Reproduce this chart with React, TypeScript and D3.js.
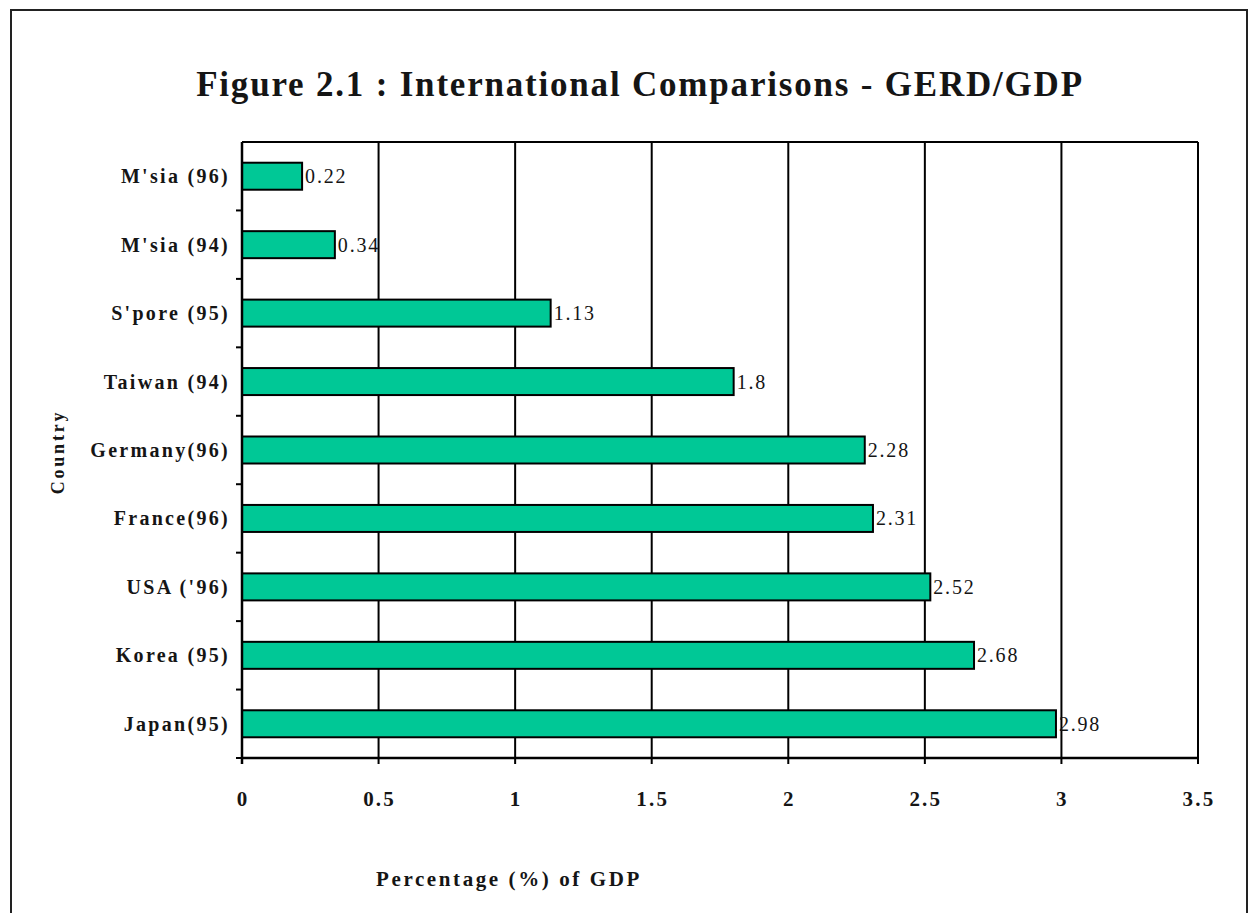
import React from "react";
import * as d3 from "d3";

// GERD as a percentage of GDP, top to bottom
const countries = [
  "M'sia (96)",
  "M'sia (94)",
  "S'pore (95)",
  "Taiwan (94)",
  "Germany(96)",
  "France(96)",
  "USA ('96)",
  "Korea (95)",
  "Japan(95)",
];
const gerdValues = [0.22, 0.34, 1.13, 1.8, 2.28, 2.31, 2.52, 2.68, 2.98];
const xTicks = [0, 0.5, 1, 1.5, 2, 2.5, 3, 3.5];

const W = 1253;
const H = 913;
const plot = { left: 242, right: 1198, top: 142, bottom: 758 };
const FONT = "'Liberation Serif', 'DejaVu Serif', serif";
const BAR = "#00c896";
const INK = "#151515";

export default function App() {
  const x = d3.scaleLinear().domain([0, 3.5]).range([plot.left, plot.right]);
  const y = d3
    .scaleBand<string>()
    .domain(countries)
    .range([plot.top, plot.bottom])
    .paddingInner(0.6)
    .paddingOuter(0.3);
  const band = (plot.bottom - plot.top) / countries.length;
  const catTicks = d3.range(1, countries.length).map((i) => plot.top + i * band);

  return (
    <svg
      width={W}
      height={H}
      style={{ position: "absolute", left: 0, top: 0, display: "block", background: "#fff" }}
    >
      <rect x={0} y={0} width={W} height={H} fill="#fff" />
      {/* outer frame */}
      <path d={`M11,${H + 5} V10 H1247 V${H + 5}`} fill="none" stroke="#222" strokeWidth={2} />

      <text
        x={640}
        y={96}
        textAnchor="middle"
        fontFamily={FONT}
        fontWeight="bold"
        fontSize={35}
        letterSpacing={1.8}
        fill={INK}
      >
        Figure 2.1 : International Comparisons - GERD/GDP
      </text>

      {/* vertical gridlines */}
      {xTicks.map((t) => (
        <line
          key={`g${t}`}
          x1={x(t)}
          x2={x(t)}
          y1={plot.top}
          y2={plot.bottom + 6}
          stroke="#000"
          strokeWidth={2}
        />
      ))}
      {/* plot frame top and bottom */}
      <line x1={plot.left} x2={plot.right} y1={plot.top} y2={plot.top} stroke="#000" strokeWidth={2} />
      <line x1={plot.left} x2={plot.right + 1} y1={plot.bottom} y2={plot.bottom} stroke="#000" strokeWidth={2.5} />

      {/* category ticks */}
      {catTicks.map((t, i) => (
        <line key={`c${i}`} x1={plot.left - 6} x2={plot.left} y1={t} y2={t} stroke="#000" strokeWidth={2} />
      ))}
      <line x1={plot.left - 6} x2={plot.left} y1={plot.bottom} y2={plot.bottom} stroke="#000" strokeWidth={2} />

      {/* bars */}
      {countries.map((c, i) => {
        const yc = (y(c) as number) + y.bandwidth() / 2;
        const h = 27;
        return (
          <g key={c}>
            <rect
              x={x(0)}
              y={yc - h / 2}
              width={x(gerdValues[i]) - x(0)}
              height={h}
              fill={BAR}
              stroke="#000"
              strokeWidth={2}
            />
            <text
              x={x(gerdValues[i]) + 3}
              y={yc + 7}
              fontFamily={FONT}
              fontSize={20}
              letterSpacing={1.8}
              fill={INK}
            >
              {gerdValues[i]}
            </text>
            <text
              x={230}
              y={yc + 7}
              textAnchor="end"
              fontFamily={FONT}
              fontWeight="bold"
              fontSize={20}
              letterSpacing={2.3}
              fill={INK}
            >
              {c}
            </text>
          </g>
        );
      })}
      {/* left axis line */}
      <line x1={plot.left} x2={plot.left} y1={plot.top} y2={plot.bottom + 6} stroke="#000" strokeWidth={2.5} />

      {/* x tick labels */}
      {xTicks.map((t) => (
        <text
          key={`t${t}`}
          x={x(t) + 1}
          y={806}
          textAnchor="middle"
          fontFamily={FONT}
          fontWeight="bold"
          fontSize={21}
          letterSpacing={2.2}
          fill={INK}
        >
          {t}
        </text>
      ))}

      <text
        x={509}
        y={886}
        textAnchor="middle"
        fontFamily={FONT}
        fontWeight="bold"
        fontSize={21}
        letterSpacing={2.6}
        fill={INK}
      >
        Percentage (%) of GDP
      </text>
      <text
        transform={`translate(64,452) rotate(-90)`}
        textAnchor="middle"
        fontFamily={FONT}
        fontWeight="bold"
        fontSize={18}
        letterSpacing={2.8}
        fill={INK}
      >
        Country
      </text>
    </svg>
  );
}
